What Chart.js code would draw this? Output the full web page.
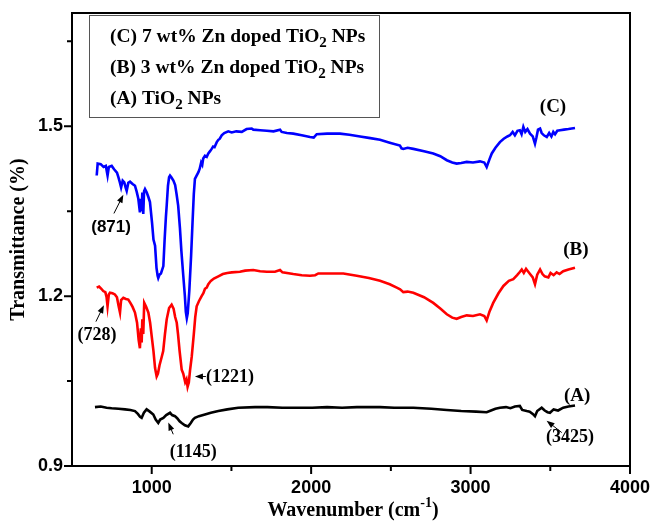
<!DOCTYPE html>
<html>
<head>
<meta charset="utf-8">
<script src="https://cdn.jsdelivr.net/npm/chart.js@4.4.0/dist/chart.umd.min.js"></script>
<style>
  html, body { margin: 0; padding: 0; background: #fff; }
</style>
</head>
<body>
<canvas id="myChart" width="654" height="524"></canvas>
<script>
// FTIR spectra, [wavenumber, transmittance]
const seriesNames = ['(C) 7 wt% Zn doped TiO_2 NPs', '(B) 3 wt% Zn doped TiO_2 NPs', '(A) TiO_2 NPs'];
const seriesTags = ['(C)', '(B)', '(A)'];
const seriesColors = ['#0000ff', '#ff0000', '#000000'];

const specC = [[655,1.413],[661,1.434],[680,1.433],[698,1.428],[712,1.430],[723,1.413],[731,1.428],[749,1.430],[764,1.424],[782,1.418],[791,1.410],[801,1.400],[808,1.392],[818,1.404],[828,1.401],[836,1.392],[843,1.386],[853,1.400],[864,1.402],[880,1.398],[895,1.395],[906,1.384],[916,1.372],[926,1.348],[932,1.372],[937,1.350],[941,1.383],[947,1.345],[952,1.385],[958,1.389],[969,1.383],[979,1.375],[989,1.366],[1002,1.330],[1011,1.300],[1021,1.289],[1030,1.250],[1037,1.236],[1041,1.232],[1049,1.238],[1058,1.240],[1073,1.253],[1081,1.300],[1089,1.340],[1094,1.360],[1102,1.395],[1109,1.410],[1115,1.413],[1123,1.410],[1136,1.404],[1147,1.396],[1156,1.380],[1166,1.360],[1177,1.320],[1186,1.280],[1198,1.236],[1208,1.200],[1214,1.172],[1220,1.161],[1226,1.170],[1236,1.210],[1247,1.271],[1256,1.330],[1264,1.380],[1271,1.407],[1280,1.412],[1293,1.419],[1301,1.425],[1310,1.436],[1317,1.432],[1323,1.443],[1334,1.448],[1345,1.446],[1355,1.452],[1366,1.456],[1376,1.460],[1385,1.464],[1394,1.463],[1408,1.472],[1418,1.476],[1427,1.478],[1439,1.484],[1455,1.488],[1480,1.491],[1502,1.489],[1530,1.491],[1565,1.490],[1595,1.495],[1627,1.496],[1637,1.494],[1680,1.493],[1722,1.492],[1764,1.491],[1805,1.494],[1815,1.490],[1848,1.488],[1888,1.487],[1941,1.484],[1993,1.481],[2016,1.480],[2035,1.486],[2100,1.487],[2181,1.487],[2240,1.485],[2307,1.482],[2371,1.479],[2432,1.476],[2493,1.471],[2557,1.466],[2567,1.461],[2578,1.460],[2605,1.462],[2641,1.460],[2708,1.456],[2766,1.452],[2810,1.447],[2851,1.440],[2885,1.436],[2913,1.434],[2941,1.435],[2976,1.437],[3015,1.436],[3059,1.438],[3086,1.436],[3101,1.428],[3119,1.442],[3133,1.452],[3156,1.462],[3184,1.472],[3208,1.478],[3231,1.482],[3247,1.484],[3264,1.490],[3278,1.484],[3294,1.492],[3309,1.493],[3320,1.486],[3331,1.499],[3343,1.490],[3357,1.495],[3373,1.487],[3390,1.482],[3404,1.469],[3413,1.480],[3423,1.494],[3436,1.496],[3446,1.488],[3460,1.484],[3478,1.481],[3493,1.488],[3507,1.482],[3519,1.490],[3530,1.486],[3544,1.492],[3561,1.493],[3586,1.494],[3614,1.495],[3655,1.497]];

const specB = [[655,1.215],[670,1.217],[684,1.213],[696,1.209],[709,1.207],[717,1.198],[723,1.182],[731,1.203],[738,1.206],[754,1.205],[769,1.203],[782,1.198],[792,1.183],[801,1.171],[808,1.193],[822,1.197],[838,1.195],[853,1.194],[866,1.188],[880,1.181],[895,1.171],[908,1.153],[918,1.123],[926,1.108],[932,1.143],[937,1.118],[941,1.159],[947,1.133],[953,1.188],[965,1.181],[979,1.171],[990,1.153],[1000,1.129],[1011,1.103],[1021,1.073],[1031,1.058],[1039,1.063],[1049,1.078],[1063,1.093],[1072,1.103],[1083,1.133],[1094,1.159],[1109,1.179],[1125,1.185],[1137,1.178],[1147,1.163],[1157,1.153],[1165,1.133],[1175,1.103],[1188,1.070],[1198,1.063],[1210,1.048],[1218,1.053],[1225,1.040],[1233,1.048],[1240,1.068],[1251,1.093],[1264,1.133],[1273,1.163],[1282,1.182],[1296,1.191],[1313,1.200],[1324,1.205],[1334,1.213],[1345,1.215],[1355,1.221],[1371,1.227],[1390,1.231],[1418,1.235],[1446,1.239],[1474,1.241],[1502,1.242],[1553,1.243],[1586,1.245],[1637,1.246],[1680,1.244],[1722,1.243],[1773,1.243],[1805,1.246],[1820,1.242],[1888,1.239],[1941,1.237],[1993,1.236],[2025,1.237],[2045,1.240],[2128,1.240],[2202,1.240],[2286,1.236],[2362,1.232],[2432,1.227],[2493,1.221],[2537,1.215],[2558,1.212],[2578,1.207],[2605,1.208],[2641,1.206],[2708,1.198],[2766,1.188],[2810,1.178],[2851,1.168],[2885,1.162],[2913,1.160],[2941,1.163],[2976,1.166],[3015,1.165],[3059,1.168],[3086,1.165],[3101,1.157],[3119,1.173],[3142,1.188],[3175,1.205],[3206,1.218],[3240,1.227],[3268,1.230],[3292,1.237],[3310,1.243],[3321,1.247],[3334,1.241],[3348,1.248],[3362,1.243],[3373,1.239],[3390,1.233],[3404,1.221],[3418,1.238],[3436,1.247],[3451,1.239],[3465,1.235],[3488,1.233],[3502,1.241],[3521,1.237],[3540,1.242],[3558,1.239],[3581,1.244],[3614,1.247],[3655,1.250]];

const specA = [[644,1.004],[680,1.005],[717,1.003],[749,1.002],[792,1.001],[833,1.000],[866,0.999],[895,0.997],[913,0.992],[927,0.987],[937,0.985],[951,0.994],[968,1.000],[988,0.996],[1010,0.991],[1025,0.982],[1041,0.976],[1053,0.982],[1073,0.985],[1091,0.990],[1115,0.994],[1128,0.990],[1146,0.988],[1161,0.984],[1175,0.979],[1188,0.976],[1208,0.972],[1229,0.970],[1245,0.976],[1259,0.982],[1271,0.985],[1296,0.988],[1334,0.991],[1371,0.994],[1418,0.997],[1474,1.000],[1543,1.003],[1648,1.004],[1726,1.004],[1820,1.003],[1913,1.003],[2007,1.003],[2100,1.004],[2194,1.003],[2287,1.004],[2432,1.004],[2521,1.003],[2641,1.003],[2754,1.001],[2851,0.999],[2941,0.997],[3035,0.996],[3101,0.995],[3128,0.998],[3156,1.001],[3184,1.003],[3222,1.004],[3250,1.002],[3278,1.005],[3309,1.006],[3324,0.999],[3352,0.997],[3371,0.996],[3390,0.992],[3404,0.988],[3418,0.997],[3446,1.003],[3465,0.998],[3483,0.995],[3498,0.994],[3521,1.000],[3549,0.998],[3581,1.003],[3614,1.005],[3655,1.007]];

const xTickLabels = [1000, 2000, 3000, 4000];
const xMinorTicks = [1500, 2500, 3500];
const yTickLabels = [0.9, 1.2, 1.5];
const yMinorTicks = [1.05, 1.35, 1.65];

// peak labels: text position and arrow tail -> tip, in data units
const peakNotes = [
  { text: '(871)', at: [745, 1.321], from: [763, 1.346], to: [822, 1.379], font: 'sans' },
  { text: '(728)', at: [657, 1.131], from: [650, 1.155], to: [700, 1.184] },
  { text: '(1221)', at: [1491, 1.056], from: [1340, 1.058], to: [1271, 1.058] },
  { text: '(1145)', at: [1261, 0.924], from: [1135, 0.956], to: [1104, 0.977] },
  { text: '(3425)', at: [3624, 0.951], from: [3572, 0.959], to: [3477, 0.980] }
];
const tagPositions = [[3517, 1.534], [3661, 1.281], [3668, 1.023]];

const SERIF = "'Liberation Serif', 'Times New Roman', serif";
const SANS = "'Liberation Sans', Arial, sans-serif";

// draw text where "_2" becomes a subscript 2
function drawSubText(ctx, str, x, y, size) {
  const parts = str.split('_2');
  ctx.textAlign = 'left';
  ctx.textBaseline = 'middle';
  let cx = x;
  parts.forEach((p, i) => {
    ctx.font = 'bold ' + size + 'px ' + SERIF;
    ctx.fillText(p, cx, y);
    cx += ctx.measureText(p).width;
    if (i < parts.length - 1) {
      ctx.font = 'bold ' + Math.round(size * 0.75) + 'px ' + SERIF;
      ctx.fillText('2', cx, y + 6);
      cx += ctx.measureText('2').width;
    }
  });
}

const decorations = {
  id: 'decorations',
  afterDatasetsDraw(chart) {
    const ctx = chart.ctx;
    const a = chart.chartArea;
    const xs = chart.scales.x, ys = chart.scales.y;
    ctx.save();
    ctx.strokeStyle = '#000';
    ctx.fillStyle = '#000';

    // frame
    ctx.lineWidth = 2;
    ctx.strokeRect(a.left, a.top, a.right - a.left, a.bottom - a.top);

    // ticks, pointing out
    ctx.beginPath();
    xTickLabels.forEach(v => { const p = xs.getPixelForValue(v); ctx.moveTo(p, a.bottom); ctx.lineTo(p, a.bottom + 8); });
    xMinorTicks.forEach(v => { const p = xs.getPixelForValue(v); ctx.moveTo(p, a.bottom); ctx.lineTo(p, a.bottom + 5); });
    yTickLabels.forEach(v => { const p = ys.getPixelForValue(v); ctx.moveTo(a.left, p); ctx.lineTo(a.left - 8, p); });
    yMinorTicks.forEach(v => { const p = ys.getPixelForValue(v); ctx.moveTo(a.left, p); ctx.lineTo(a.left - 5, p); });
    ctx.stroke();

    // legend box
    ctx.lineWidth = 1;
    ctx.strokeStyle = '#555';
    ctx.fillStyle = '#fff';
    ctx.fillRect(89, 15, 290, 102);
    ctx.strokeRect(89.5, 15.5, 290, 102);
    ctx.fillStyle = '#000';
    seriesNames.forEach((n, i) => drawSubText(ctx, n, 110, 37 + i * 31, 19.5));

    // series tags
    ctx.font = 'bold 19px ' + SERIF;
    ctx.textAlign = 'center';
    ctx.textBaseline = 'middle';
    seriesTags.forEach((t, i) => {
      ctx.fillText(t, xs.getPixelForValue(tagPositions[i][0]), ys.getPixelForValue(tagPositions[i][1]));
    });

    // peak notes with arrows
    ctx.strokeStyle = '#000';
    ctx.lineWidth = 1;
    peakNotes.forEach(n => {
      ctx.font = n.font === 'sans' ? 'bold 17px ' + SANS : 'bold 18px ' + SERIF;
      ctx.textAlign = 'center';
      ctx.textBaseline = 'middle';
      ctx.fillText(n.text, xs.getPixelForValue(n.at[0]), ys.getPixelForValue(n.at[1]));
      const x0 = xs.getPixelForValue(n.from[0]), y0 = ys.getPixelForValue(n.from[1]);
      const x1 = xs.getPixelForValue(n.to[0]), y1 = ys.getPixelForValue(n.to[1]);
      const ang = Math.atan2(y1 - y0, x1 - x0);
      ctx.beginPath();
      ctx.moveTo(x0, y0);
      ctx.lineTo(x1 - 5 * Math.cos(ang), y1 - 5 * Math.sin(ang));
      ctx.stroke();
      ctx.beginPath();
      ctx.moveTo(x1, y1);
      ctx.lineTo(x1 - 8 * Math.cos(ang) + 3 * Math.sin(ang), y1 - 8 * Math.sin(ang) - 3 * Math.cos(ang));
      ctx.lineTo(x1 - 8 * Math.cos(ang) - 3 * Math.sin(ang), y1 - 8 * Math.sin(ang) + 3 * Math.cos(ang));
      ctx.closePath();
      ctx.fill();
    });

    // axis titles
    ctx.font = 'bold 20px ' + SERIF;
    ctx.textAlign = 'center';
    ctx.textBaseline = 'middle';
    ctx.save();
    ctx.translate(19, (a.top + a.bottom) / 2);
    ctx.rotate(-Math.PI / 2);
    ctx.fillText('Transmittance (%)', 0, 0);
    ctx.restore();

    const t1 = 'Wavenumber (cm', sup = '-1', t2 = ')';
    ctx.font = 'bold 20px ' + SERIF;
    const w1 = ctx.measureText(t1).width, w2 = ctx.measureText(t2).width;
    ctx.font = 'bold 14px ' + SERIF;
    const ws = ctx.measureText(sup).width;
    let x = 353 - (w1 + ws + w2) / 2;
    const y = 511;
    ctx.textAlign = 'left';
    ctx.font = 'bold 20px ' + SERIF;
    ctx.fillText(t1, x, y);
    ctx.font = 'bold 14px ' + SERIF;
    ctx.fillText(sup, x + w1, y - 8);
    ctx.font = 'bold 20px ' + SERIF;
    ctx.fillText(t2, x + w1 + ws, y);
    ctx.restore();
  }
};

// drop the label overhang padding so the plot box sits where the figure has it
const noPad = s => { s.paddingLeft = 0; s.paddingRight = 0; s.paddingTop = 0; s.paddingBottom = 0; };

const ctx = document.getElementById('myChart').getContext('2d');
const allSpectra = [specC, specB, specA];

const myChart = new Chart(ctx, {
  type: 'line',
  data: {
    datasets: allSpectra.map((s, i) => ({
      label: seriesNames[i],
      data: s.map(p => ({ x: p[0], y: p[1] })),
      borderColor: seriesColors[i],
      borderWidth: 2.6,
      pointRadius: 0,
      fill: false,
      tension: 0
    }))
  },
  options: {
    responsive: false,
    animation: false,
    layout: { padding: { top: 13, right: 24, left: 0, bottom: 0 } },
    plugins: { legend: { display: false }, tooltip: { enabled: false } },
    scales: {
      x: {
        type: 'linear',
        min: 500,
        max: 4000,
        afterFit: s => { s.height = 58; noPad(s); },
        afterBuildTicks: s => { s.ticks = xTickLabels.map(v => ({ value: v })); },
        grid: { display: false, drawTicks: false },
        border: { display: false },
        ticks: {
          padding: 11,
          color: '#000',
          autoSkip: false,
          maxRotation: 0,
          font: { family: SANS, size: 18, weight: 'bold' },
          callback: v => String(v)
        }
      },
      y: {
        type: 'linear',
        min: 0.9,
        max: 1.7,
        afterFit: s => { s.width = 72; noPad(s); },
        afterBuildTicks: s => { s.ticks = yTickLabels.map(v => ({ value: v })); },
        grid: { display: false, drawTicks: false },
        border: { display: false },
        ticks: {
          padding: 9,
          color: '#000',
          font: { family: SANS, size: 18, weight: 'bold' },
          callback: v => v.toFixed(1)
        }
      }
    }
  },
  plugins: [decorations]
});
</script>
</body>
</html>
